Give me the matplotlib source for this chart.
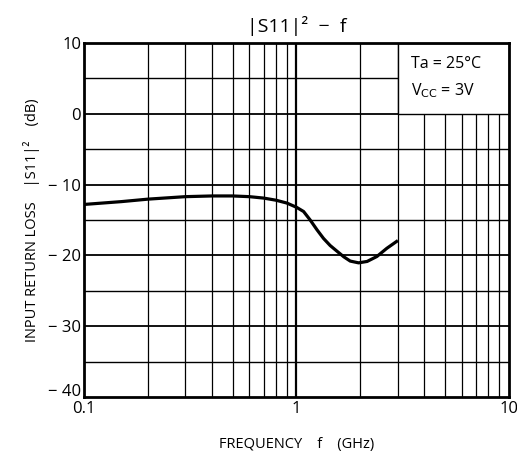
import matplotlib
matplotlib.use("Agg")
import matplotlib.pyplot as plt
import matplotlib.transforms as mtransforms
from matplotlib.patches import Rectangle

freq_ghz = [0.1, 0.15, 0.2, 0.3, 0.4, 0.5, 0.6, 0.7, 0.8, 0.9, 1.0, 1.08, 1.16, 1.25, 1.34,
            1.44, 1.55, 1.67, 1.79, 1.96, 2.15, 2.39, 2.66, 3.0]
s11_db = [-12.8, -12.4, -12.05, -11.7, -11.6, -11.6, -11.7, -11.9, -12.2, -12.6, -13.2, -13.8, -15.0, -16.4, -17.6,
          -18.6, -19.4, -20.2, -20.8, -21.05, -20.85, -20.15, -19.0, -17.9]

xticks = [0.1, 1, 10]
xtick_labels = ["0.1", "1", "10"]
yticks = [10, 0, -10, -20, -30, -40]
ytick_labels = ["10", "0", "\u2212 10", "\u2212 20", "\u2212 30", "\u2212 40"]

plt.rcParams['font.family'] = ['Open Sans', 'DejaVu Sans']

fig = plt.figure(figsize=(5.17, 4.53), dpi=100)
ax = fig.add_axes([0.1625, 0.1236, 0.822, 0.7814])
ax.set_xscale('log')
ax.set_xlim(0.1, 10)
ax.set_ylim(-40, 10)

# grid
for dec in [0.1, 1]:
    for k in range(2, 10):
        ax.axvline(dec * k, color='black', lw=0.9, zorder=1)
ax.axvline(1, color='black', lw=1.6, zorder=1)
for yv in range(-35, 10, 5):
    ax.axhline(yv, color='black', lw=1.0 if yv % 10 else 1.3, zorder=1)

# condition box
ax.add_patch(Rectangle((3, 0), 7, 10, facecolor='white', edgecolor='black', lw=1.0, zorder=2))
ax.text(3.45, 7.0, "Ta = 25°C", fontsize=11.5, zorder=3, va='center')
ax.text(3.45, 3.3, "V$_{\\mathrm{CC}}$ = 3V", fontsize=11.5, zorder=3, va='center')

ax.plot(freq_ghz, s11_db, color='black', lw=2.3, zorder=4, solid_capstyle='butt')

ax.set_xticks(xticks)
ax.set_xticklabels(xtick_labels, fontsize=12)
ax.xaxis.set_minor_locator(matplotlib.ticker.NullLocator())
ax.set_yticks(yticks)
ax.set_yticklabels(ytick_labels, fontsize=12)
ax.tick_params(length=0, pad=2)
ax.tick_params(axis='x', pad=3)
for s in ax.spines.values():
    s.set_linewidth(2.0)
    s.set_zorder(5)

# lift the lowest y label slightly, as in the reference
lbl = ax.get_yticklabels()[-1]
lbl.set_transform(lbl.get_transform() + mtransforms.ScaledTranslation(0, 5 / 72, fig.dpi_scale_trans))

ax.set_title("|S11|\u00b2  \u2212  f", fontsize=14, pad=8)
ax.set_xlabel("FREQUENCY    f    (GHz)", fontsize=10.5, labelpad=14)
ax.set_ylabel("INPUT RETURN LOSS    |S11|\u00b2    (dB)", fontsize=10.5, labelpad=6)

fig.savefig("out.png", dpi=100)
